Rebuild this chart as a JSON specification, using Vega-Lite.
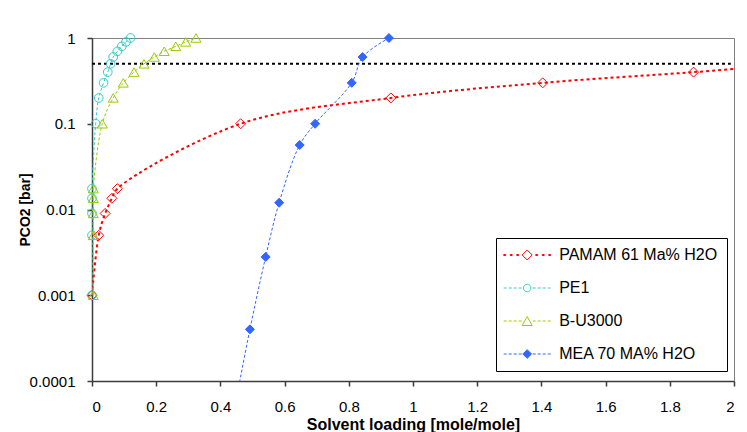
{
  "$schema": "https://vega.github.io/schema/vega-lite/v6.json",
  "width": 642,
  "height": 343,
  "autosize": {"type": "none"},
  "padding": {"left": 92, "top": 38, "right": 13, "bottom": 51},
  "background": "white",
  "config": {
    "view": {"stroke": "#808080", "strokeWidth": 1},
    "axis": {
      "grid": false,
      "domainColor": "#3c3c3c",
      "domainWidth": 1.5,
      "tickColor": "#3c3c3c",
      "tickWidth": 1.5,
      "tickSize": 5,
      "labelFont": "Liberation Sans",
      "labelFontSize": 15,
      "labelColor": "black",
      "titleFont": "Liberation Sans",
      "titleColor": "black",
      "titleFontWeight": "bold"
    },
    "legend": {
      "orient": "none",
      "legendX": 404,
      "legendY": 200,
      "title": null,
      "padding": 9,
      "strokeColor": "black",
      "fillColor": "white",
      "symbolSize": 100,
      "symbolStrokeWidth": 1,
      "symbolOpacity": 1,
      "symbolOffset": 14.2,
      "labelOffset": 24,
      "labelFont": "Liberation Sans",
      "labelFontSize": 16,
      "labelColor": "black",
      "labelLimit": 300,
      "rowPadding": 17
    }
  },
  "data": {
    "values": [
      {"s": "PAMAM 61 Ma% H2O", "i": 1, "x": 0, "y": 0.001},
      {"s": "PAMAM 61 Ma% H2O", "i": 2, "x": 0.021, "y": 0.005},
      {"s": "PAMAM 61 Ma% H2O", "i": 3, "x": 0.041, "y": 0.009},
      {"s": "PAMAM 61 Ma% H2O", "i": 4, "x": 0.062, "y": 0.0135},
      {"s": "PAMAM 61 Ma% H2O", "i": 5, "x": 0.079, "y": 0.0175},
      {"s": "PAMAM 61 Ma% H2O", "i": 6, "x": 0.463, "y": 0.1},
      {"s": "PAMAM 61 Ma% H2O", "i": 7, "x": 0.931, "y": 0.2},
      {"s": "PAMAM 61 Ma% H2O", "i": 8, "x": 1.404, "y": 0.3},
      {"s": "PAMAM 61 Ma% H2O", "i": 9, "x": 1.874, "y": 0.4},
      {"s": "PAMAM 61 Ma% H2O", "i": 10, "x": 2.2, "y": 0.5},
      {"s": "PE1", "i": 1, "x": 0, "y": 0.001},
      {"s": "PE1", "i": 2, "x": 0, "y": 0.005},
      {"s": "PE1", "i": 3, "x": 0, "y": 0.009},
      {"s": "PE1", "i": 4, "x": 0, "y": 0.0135},
      {"s": "PE1", "i": 5, "x": 0, "y": 0.0175},
      {"s": "PE1", "i": 6, "x": 0.0115, "y": 0.1},
      {"s": "PE1", "i": 7, "x": 0.021, "y": 0.2},
      {"s": "PE1", "i": 8, "x": 0.036, "y": 0.3},
      {"s": "PE1", "i": 9, "x": 0.049, "y": 0.4},
      {"s": "PE1", "i": 10, "x": 0.058, "y": 0.5},
      {"s": "PE1", "i": 11, "x": 0.066, "y": 0.6},
      {"s": "PE1", "i": 12, "x": 0.079, "y": 0.7},
      {"s": "PE1", "i": 13, "x": 0.093, "y": 0.8},
      {"s": "PE1", "i": 14, "x": 0.106, "y": 0.9},
      {"s": "PE1", "i": 15, "x": 0.12, "y": 1.0},
      {"s": "B-U3000", "i": 1, "x": 0.004, "y": 0.001},
      {"s": "B-U3000", "i": 2, "x": 0.004, "y": 0.005},
      {"s": "B-U3000", "i": 3, "x": 0.004, "y": 0.009},
      {"s": "B-U3000", "i": 4, "x": 0.004, "y": 0.0135},
      {"s": "B-U3000", "i": 5, "x": 0.004, "y": 0.0175},
      {"s": "B-U3000", "i": 6, "x": 0.032, "y": 0.1},
      {"s": "B-U3000", "i": 7, "x": 0.066, "y": 0.2},
      {"s": "B-U3000", "i": 8, "x": 0.0975, "y": 0.3},
      {"s": "B-U3000", "i": 9, "x": 0.131, "y": 0.4},
      {"s": "B-U3000", "i": 10, "x": 0.162, "y": 0.5},
      {"s": "B-U3000", "i": 11, "x": 0.194, "y": 0.6},
      {"s": "B-U3000", "i": 12, "x": 0.225, "y": 0.7},
      {"s": "B-U3000", "i": 13, "x": 0.261, "y": 0.8},
      {"s": "B-U3000", "i": 14, "x": 0.292, "y": 0.9},
      {"s": "B-U3000", "i": 15, "x": 0.324, "y": 1.0},
      {"s": "MEA 70 MA% H2O", "i": 1, "x": 0.445, "y": 0.00005},
      {"s": "MEA 70 MA% H2O", "i": 2, "x": 0.492, "y": 0.0004},
      {"s": "MEA 70 MA% H2O", "i": 3, "x": 0.541, "y": 0.0028},
      {"s": "MEA 70 MA% H2O", "i": 4, "x": 0.583, "y": 0.012},
      {"s": "MEA 70 MA% H2O", "i": 5, "x": 0.647, "y": 0.0565},
      {"s": "MEA 70 MA% H2O", "i": 6, "x": 0.695, "y": 0.1},
      {"s": "MEA 70 MA% H2O", "i": 7, "x": 0.809, "y": 0.3},
      {"s": "MEA 70 MA% H2O", "i": 8, "x": 0.843, "y": 0.6},
      {"s": "MEA 70 MA% H2O", "i": 9, "x": 0.925, "y": 1.0}
    ]
  },
  "encoding": {
    "x": {
      "field": "x",
      "type": "quantitative",
      "scale": {"domain": [0, 2], "nice": false, "zero": false},
      "axis": {
        "title": "Solvent loading [mole/mole]",
        "values": [0, 0.2, 0.4, 0.6, 0.8, 1, 1.2, 1.4, 1.6, 1.8, 2],
        "format": "~g",
        "labelPadding": 13,
        "titleFontSize": 16,
        "titlePadding": 2
      }
    },
    "y": {
      "field": "y",
      "type": "quantitative",
      "scale": {"type": "log", "domain": [0.0001, 1], "nice": false},
      "axis": {
        "title": "PCO2 [bar]",
        "values": [0.0001, 0.001, 0.01, 0.1, 1],
        "format": "~g",
        "labelPadding": 12,
        "titleFontSize": 14,
        "titlePadding": -3
      }
    }
  },
  "layer": [
    {
      "data": {"values": [{"x": 0, "y": 0.5}, {"x": 1.99, "y": 0.5}]},
      "mark": {"type": "line", "color": "black", "strokeWidth": 2, "strokeDash": [3, 3]},
      "encoding": {}
    },
    {
      "transform": [{"filter": "datum.s === 'PAMAM 61 Ma% H2O'"}],
      "mark": {"type": "line", "interpolate": "catmull-rom", "clip": true, "strokeWidth": 2, "strokeDash": [3, 3], "color": "#FF0000"},
      "encoding": {"order": {"field": "i", "type": "quantitative"}}
    },
    {
      "transform": [{"filter": "datum.s === 'PE1'"}],
      "mark": {"type": "line", "interpolate": "catmull-rom", "clip": true, "strokeWidth": 1, "strokeDash": [3, 2], "color": "#33CCCC"},
      "encoding": {"order": {"field": "i", "type": "quantitative"}}
    },
    {
      "transform": [{"filter": "datum.s === 'B-U3000'"}],
      "mark": {"type": "line", "interpolate": "catmull-rom", "clip": true, "strokeWidth": 1, "strokeDash": [3, 2], "color": "#99CC00"},
      "encoding": {"order": {"field": "i", "type": "quantitative"}}
    },
    {
      "transform": [{"filter": "datum.s === 'MEA 70 MA% H2O'"}],
      "mark": {"type": "line", "interpolate": "catmull-rom", "clip": true, "strokeWidth": 1, "strokeDash": [3, 2], "color": "#3366FF"},
      "encoding": {"order": {"field": "i", "type": "quantitative"}}
    },
    {
      "transform": [{"filter": "datum.s === 'PAMAM 61 Ma% H2O' && datum.x <= 2"}],
      "mark": {"type": "point", "size": 100, "strokeWidth": 1, "opacity": 1, "filled": false, "shape": "M-1,0L0,-1L1,0L0,1Z", "stroke": "#FF0000", "fill": "transparent"}
    },
    {
      "transform": [{"filter": "datum.s === 'PE1'"}],
      "mark": {"type": "point", "size": 100, "strokeWidth": 1, "opacity": 1, "filled": false, "shape": "M-0.87,0A0.87,0.87,0,1,0,0.87,0A0.87,0.87,0,1,0,-0.87,0Z", "stroke": "#33CCCC", "fill": "transparent"}
    },
    {
      "transform": [{"filter": "datum.s === 'B-U3000'"}],
      "mark": {"type": "point", "size": 100, "strokeWidth": 1, "opacity": 1, "filled": false, "shape": "M0,-0.85L-1,0.85L1,0.85Z", "stroke": "#99CC00", "fill": "transparent"}
    },
    {
      "transform": [{"filter": "datum.s === 'MEA 70 MA% H2O' && datum.y >= 0.0001"}],
      "mark": {"type": "point", "size": 100, "strokeWidth": 1, "opacity": 1, "filled": true, "shape": "M-0.9,0L0,-0.9L0.9,0L0,0.9Z", "stroke": "#3366FF", "fill": "#3366FF"}
    },
    {
      "transform": [{"filter": "datum.x <= 2 && datum.y >= 0.0001"}],
      "mark": {"type": "point", "size": 100, "strokeWidth": 1, "opacity": 0, "filled": false},
      "encoding": {
        "stroke": {
          "field": "s",
          "type": "nominal",
          "scale": {
            "domain": ["PAMAM 61 Ma% H2O", "PE1", "B-U3000", "MEA 70 MA% H2O"],
            "range": ["#FF0000", "#33CCCC", "#99CC00", "#3366FF"]
          }
        },
        "fill": {
          "field": "s",
          "type": "nominal",
          "scale": {
            "domain": ["PAMAM 61 Ma% H2O", "PE1", "B-U3000", "MEA 70 MA% H2O"],
            "range": ["transparent", "transparent", "transparent", "#3366FF"]
          }
        },
        "shape": {
          "field": "s",
          "type": "nominal",
          "scale": {
            "domain": ["PAMAM 61 Ma% H2O", "PE1", "B-U3000", "MEA 70 MA% H2O"],
            "range": [
              "M-4.7,-0.1h0.4v0.2h-0.4ZM-3.4,-0.1h0.4v0.2h-0.4ZM-2.1,-0.1h0.4v0.2h-0.4ZM1.7,-0.1h0.4v0.2h-0.4ZM3,-0.1h0.4v0.2h-0.4ZM4.3,-0.1h0.4v0.2h-0.4ZM-1,0L0,-1L1,0L0,1Z",
              "M-4.7,0h0.6M-3.7,0h0.6M-2.7,0h0.6M-1.7,0h0.6M1.1,0h0.6M2.1,0h0.6M3.1,0h0.6M4.1,0h0.6M-0.75,0A0.75,0.75,0,1,0,0.75,0A0.75,0.75,0,1,0,-0.75,0Z",
              "M-4.7,0h0.6M-3.7,0h0.6M-2.7,0h0.6M-1.7,0h0.6M1.1,0h0.6M2.1,0h0.6M3.1,0h0.6M4.1,0h0.6M0,-0.9L-1,0.9L1,0.9Z",
              "M-4.7,0h0.6M-3.7,0h0.6M-2.7,0h0.6M-1.7,0h0.6M1.1,0h0.6M2.1,0h0.6M3.1,0h0.6M4.1,0h0.6M-0.87,0L0,-0.87L0.87,0L0,0.87Z"
            ]
          }
        }
      }
    }
  ]
}
